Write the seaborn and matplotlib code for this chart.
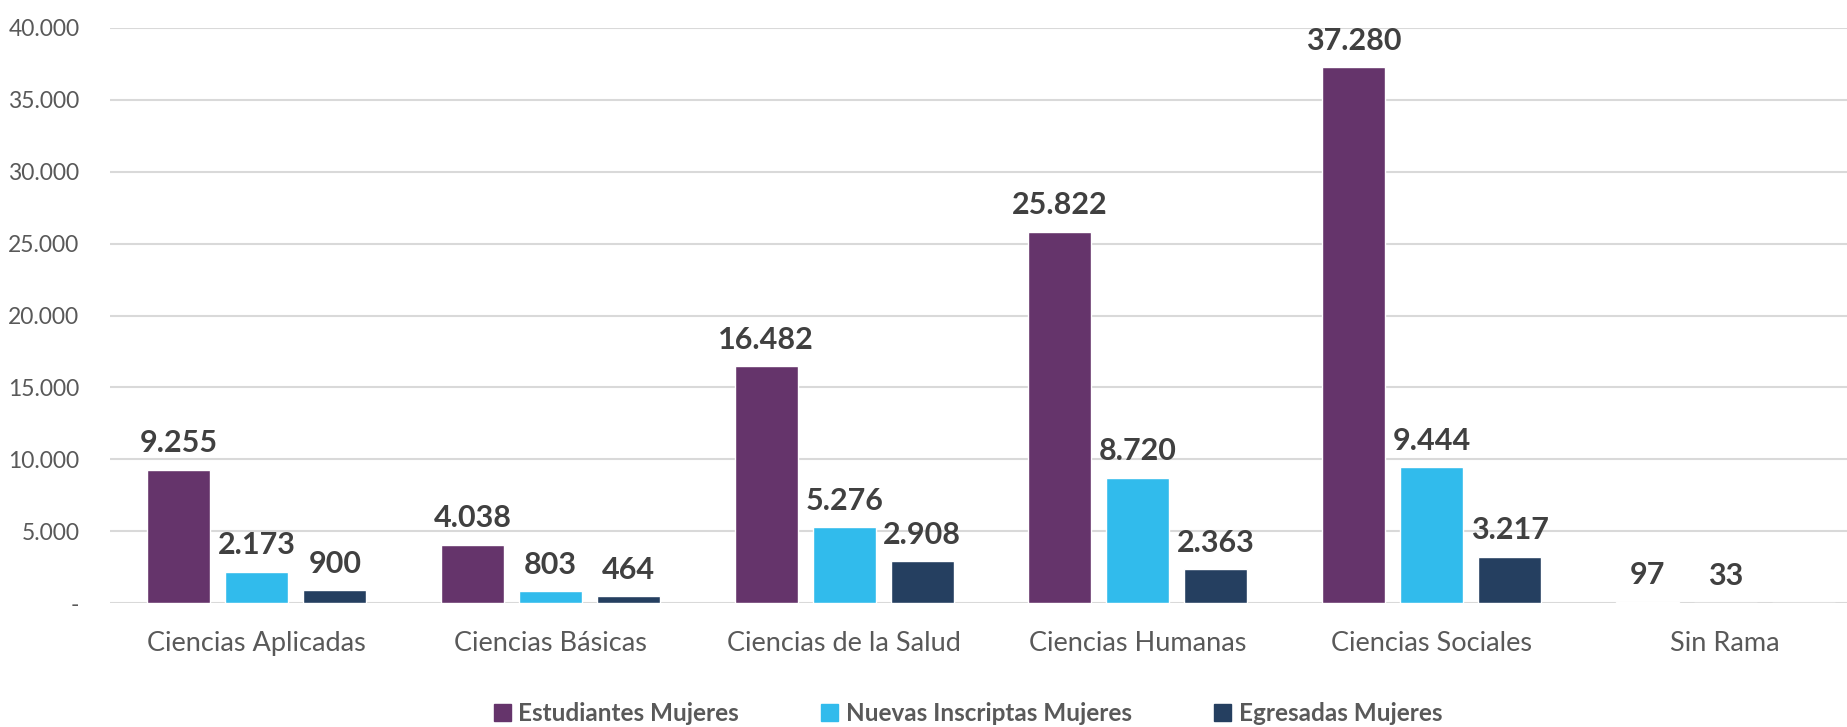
import seaborn as sns
import pandas as pd
import matplotlib.pyplot as plt
from matplotlib.ticker import FuncFormatter

categories = ["Ciencias Aplicadas", "Ciencias Básicas", "Ciencias de la Salud",
              "Ciencias Humanas", "Ciencias Sociales", "Sin Rama"]
series = ["Estudiantes Mujeres", "Nuevas Inscriptas Mujeres", "Egresadas Mujeres"]
estudiantes = [9255, 4038, 16482, 25822, 37280, 97]
inscriptas = [2173, 803, 5276, 8720, 9444, 33]
egresadas = [900, 464, 2908, 2363, 3217, 0]
colors = ["#65346B", "#31BBEC", "#253F60"]

rows = []
for s, vals in zip(series, [estudiantes, inscriptas, egresadas]):
    for c, v in zip(categories, vals):
        rows.append({"Rama": c, "Serie": s, "Valor": v})
df = pd.DataFrame(rows)

sns.set_theme(style="white")
plt.rcParams['font.family'] = ['Lato', 'DejaVu Sans']


def miles(x, pos=None):
    if x == 0:
        return "-"
    return f"{int(x):,}".replace(",", ".")


fig = plt.figure(figsize=(18.47, 7.27), dpi=100)
ax = fig.add_axes([110 / 1847, 1 - 603 / 727, 1762 / 1847, (603 - 28) / 727])

sns.barplot(data=df, x="Rama", y="Valor", hue="Serie", palette=colors,
            saturation=1, width=0.797, gap=0.192, errorbar=None, ax=ax,
            legend=False)

for cont in ax.containers:
    for bar in cont:
        h = bar.get_height()
        if h <= 0:
            continue
        ax.annotate(miles(h), (bar.get_x() + bar.get_width() / 2, h),
                    xytext=(0, 9), textcoords="offset points",
                    ha="center", va="bottom", fontsize=22, fontweight="bold",
                    color="#404040")

ax.set_ylim(0, 40000)
ax.set_yticks(range(0, 40001, 5000))
ax.yaxis.set_major_formatter(FuncFormatter(miles))
ax.grid(axis="y", color="#D9D9D9", linewidth=1.5)
ax.set_axisbelow(True)
for sp in ax.spines.values():
    sp.set_visible(False)
ax.tick_params(axis="y", length=0, pad=22, labelsize=16.5, labelcolor="#595959")
ax.tick_params(axis="x", length=0, pad=20, labelsize=19.5, labelcolor="#595959")
ax.set_xlabel("")
ax.set_ylabel("")

handles = [plt.Rectangle((0, 0), 1, 1, color=c) for c in colors]
fig.legend(handles, series, loc="lower center", bbox_to_anchor=(0.524, -0.028),
           ncol=3, frameon=False, handlelength=0.7, handleheight=0.7,
           handletextpad=0.3, columnspacing=3.4,
           prop={"size": 17.5, "weight": "bold"}, labelcolor="#595959")

fig.savefig("out.png", dpi=100)
